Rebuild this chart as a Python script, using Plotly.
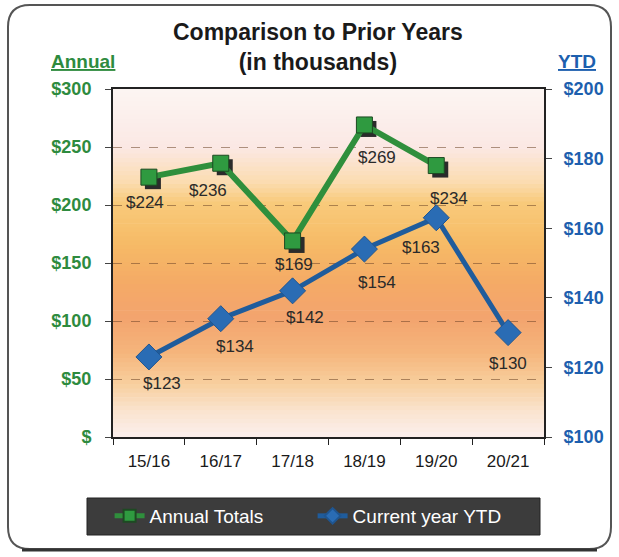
import plotly.graph_objects as go

# ---- data ----
seasons = ['15/16', '16/17', '17/18', '18/19', '19/20', '20/21']
annual_totals = [224, 236, 169, 269, 234]
ytd_values = [123, 134, 142, 154, 163, 130]

annual_ticks = [0, 50, 100, 150, 200, 250, 300]
annual_ticktext = ['$', '$50', '$100', '$150', '$200', '$250', '$300']
ytd_ticks = [100, 120, 140, 160, 180, 200]
ytd_ticktext = ['$100', '$120', '$140', '$160', '$180', '$200']

# ---- style ----
W, H = 619, 557
L, R, T, B = 113, 75, 89, 120
PW, PH = W - L - R, H - T - B
FONT = 'Liberation Sans, Arial, sans-serif'
GREEN = '#2f8f3c'
GREEN_TXT = '#2e8b3e'
BLUE = '#1f5c9c'
BLUE_TXT = '#1d5fae'

# label offsets (px) for data labels
annual_shift = [(-4, -25), (-13, -27), (1, -24), (13, -33), (13, -33)]
ytd_shift = [(13, -27), (14, -28), (12, -27), (13, -33), (-15, -30), (0, -31)]


def px(x):
    return (x - L) / PW


def py(y):
    return (H - B - y) / PH


def hexrgb(h):
    h = h.lstrip('#')
    return [int(h[i:i + 2], 16) for i in (0, 2, 4)]


def grad_color(stops, f):
    for (f0, c0), (f1, c1) in zip(stops, stops[1:]):
        if f0 <= f <= f1:
            t = (f - f0) / (f1 - f0) if f1 > f0 else 0
            a, b = hexrgb(c0), hexrgb(c1)
            return 'rgb(%d,%d,%d)' % tuple(round(a[i] + (b[i] - a[i]) * t) for i in range(3))
    return stops[-1][1]


# gradient stops from top (0) to bottom (1) of plot area
stops = [(0.0, '#fcf5f3'), (0.17, '#fbe8e4'), (0.27, '#fbdcb0'), (0.33, '#f8ca7a'),
         (0.45, '#f6ba66'), (0.56, '#f4aa66'), (0.66, '#f3a46e'), (0.76, '#f5b57c'),
         (0.85, '#f8cf9e'), (0.93, '#fae4d0'), (1.0, '#fbefec')]

shapes = []
n = 80
for i in range(n):
    f0, f1 = i / n, (i + 1) / n
    shapes.append(dict(type='rect', xref='paper', yref='paper', x0=0, x1=1,
                       y0=1 - f1, y1=1 - f0 + 0.002, layer='below',
                       line=dict(width=0), fillcolor=grad_color(stops, (f0 + f1) / 2)))

# rounded outer frame
x0, x1, y0, y1, r = 8, 611, 5, 549, 22
rx, ry = r / PW, r / PH
path = (f'M {px(x0)+rx},{py(y0)} L {px(x1)-rx},{py(y0)} Q {px(x1)},{py(y0)} {px(x1)},{py(y0)-ry} '
        f'L {px(x1)},{py(y1)+ry} Q {px(x1)},{py(y1)} {px(x1)-rx},{py(y1)} '
        f'L {px(x0)+rx},{py(y1)} Q {px(x0)},{py(y1)} {px(x0)},{py(y1)+ry} '
        f'L {px(x0)},{py(y0)-ry} Q {px(x0)},{py(y0)} {px(x0)+rx},{py(y0)} Z')
shapes.append(dict(type='path', xref='paper', yref='paper', path=path, layer='below',
                   line=dict(color='#555555', width=2)))
shapes.append(dict(type='line', xref='paper', yref='paper', x0=px(x0 + 14), x1=px(x1 - 14),
                   y0=py(y1 + 1), y1=py(y1 + 1), line=dict(color='#333333', width=3)))
# legend box
shapes.append(dict(type='rect', xref='paper', yref='paper', x0=px(87), x1=px(540),
                   y0=py(535), y1=py(498), layer='above',
                   fillcolor='#3c3c3c', line=dict(color='#222222', width=1)))

fig = go.Figure()

# marker shadows (main subplot, drawn first)
fig.add_trace(go.Scatter(
    x=seasons[:len(annual_totals)], y=annual_totals, xaxis='x', yaxis='y',
    mode='markers', showlegend=False, hoverinfo='skip',
    marker=dict(symbol='square', size=16, color='#2b2b2b')))

fig.add_trace(go.Scatter(
    x=seasons[:len(annual_totals)], y=annual_totals, xaxis='x2', yaxis='y2',
    mode='lines+markers', name='Annual Totals',
    line=dict(color=GREEN, width=6),
    marker=dict(symbol='square', size=16, color='#2f9a40', line=dict(color='#1d4a22', width=1))))

fig.add_trace(go.Scatter(
    x=seasons, y=ytd_values, xaxis='x2', yaxis='y3',
    mode='lines+markers', name='Current year YTD',
    line=dict(color=BLUE, width=5),
    marker=dict(symbol='diamond', size=20, color='#2a6cb4', line=dict(color='#1f5590', width=1))))

lab_font = dict(family=FONT, size=17, color='#2a2a2a')
annotations = []
for s, v, (dx, dy) in zip(seasons, annual_totals, annual_shift):
    annotations.append(dict(x=s, y=v, xref='x2', yref='y2', text=f'${v}', showarrow=False,
                            xanchor='center', yanchor='middle',
                            xshift=dx, yshift=dy, font=lab_font))
for s, v, (dx, dy) in zip(seasons, ytd_values, ytd_shift):
    annotations.append(dict(x=s, y=v, xref='x2', yref='y3', text=f'${v}', showarrow=False,
                            xanchor='center', yanchor='middle',
                            xshift=dx, yshift=dy, font=lab_font))

annotations += [
    dict(x=px(318), y=py(47), xref='paper', yref='paper', showarrow=False,
         xanchor='center', yanchor='middle',
         text='<b>Comparison to Prior Years<br>(in thousands)</b>', align='center',
         font=dict(family=FONT, size=23, color='#1a1a1a')),
    dict(x=px(83), y=py(61), xref='paper', yref='paper', showarrow=False,
         xanchor='center', yanchor='middle',
         text='<b><u>Annual</u></b>', font=dict(family=FONT, size=19, color=GREEN_TXT)),
    dict(x=px(577), y=py(61), xref='paper', yref='paper', showarrow=False,
         xanchor='center', yanchor='middle',
         text='<b><u>YTD</u></b>', font=dict(family=FONT, size=19, color=BLUE_TXT)),
]

sx = 4 / (PW / 6)      # shadow offset in category units
sy = 4 / (PH / 300)    # shadow offset in annual units

fig.update_layout(
    width=W, height=H,
    margin=dict(l=L, r=R, t=T, b=B),
    paper_bgcolor='white',
    plot_bgcolor='white',
    font=dict(family=FONT),
    shapes=shapes,
    annotations=annotations,
    showlegend=True,
    legend=dict(orientation='h', xref='container', yref='container',
                x=0.505, y=1 - 516 / H, xanchor='center', yanchor='middle',
                bgcolor='rgba(0,0,0,0)', font=dict(family=FONT, size=19, color='white'),
                itemsizing='constant', tracegroupgap=0, entrywidth=158),
    xaxis=dict(type='category', categoryorder='array', categoryarray=seasons,
               range=[-0.5 - sx, 5.5 - sx], visible=False, fixedrange=True),
    yaxis=dict(range=[sy, 300 + sy], visible=False, fixedrange=True),
    xaxis2=dict(type='category', categoryorder='array', categoryarray=seasons,
                overlaying='x', range=[-0.5, 5.5], tickson='boundaries',
                ticks='outside', ticklen=6, tickcolor='#222', showline=True,
                linecolor='#222', linewidth=2, mirror=True, showgrid=False,
                ticklabelstandoff=8,
                tickfont=dict(family=FONT, size=17, color='#1a1a1a'), anchor='y2'),
    yaxis2=dict(range=[0, 300], tickvals=annual_ticks, ticktext=annual_ticktext,
                overlaying='y', side='left', anchor='x2',
                ticks='outside', ticklen=6, tickcolor='#444', showline=True,
                linecolor='#222', linewidth=2, showgrid=True,
                gridcolor='rgba(110,70,40,0.55)', griddash='dash', gridwidth=1,
                zeroline=False, ticklabelstandoff=10,
                tickfont=dict(family=FONT, size=18, color=GREEN_TXT, weight='bold')),
    yaxis3=dict(range=[100, 200], tickvals=ytd_ticks, ticktext=ytd_ticktext,
                overlaying='y', side='right', anchor='x2',
                ticks='outside', ticklen=6, tickcolor='#444', showline=True,
                linecolor='#222', linewidth=2, showgrid=False, zeroline=False,
                ticklabelstandoff=8,
                tickfont=dict(family=FONT, size=18, color=BLUE_TXT, weight='bold')),
)

fig.write_html('out.html', config={'displayModeBar': False},
               post_script="document.body.style.margin='0px';")
